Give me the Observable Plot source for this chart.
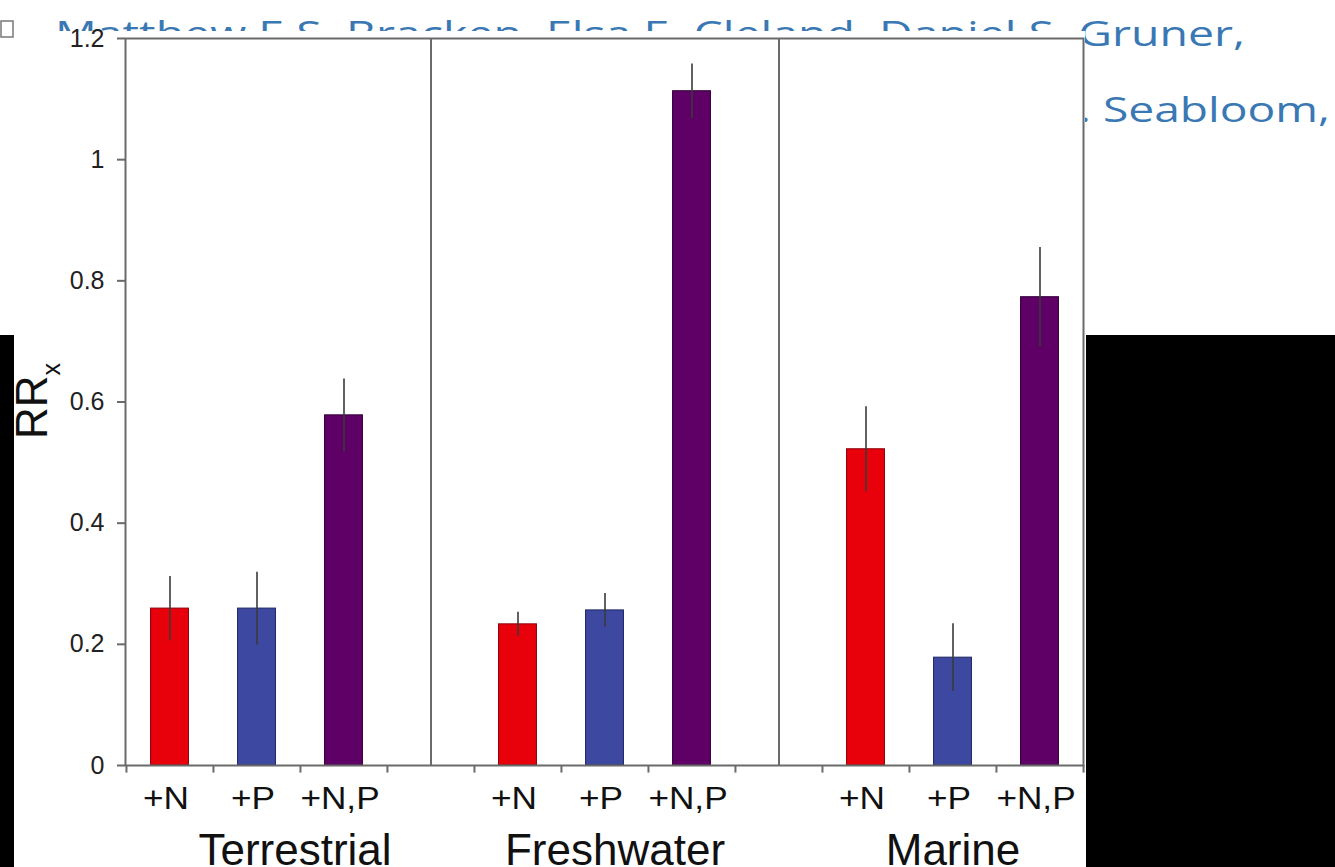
<!DOCTYPE html>
<html>
<head>
<meta charset="utf-8">
<script src="https://cdn.jsdelivr.net/npm/d3@7"></script>
<script src="https://cdn.jsdelivr.net/npm/@observablehq/plot@0.6"></script>
<style>
  html, body { margin: 0; padding: 0; background: #ffffff; width: 1335px; height: 867px; overflow: hidden; }
  #page { position: relative; width: 1335px; height: 867px; }
  #bg { position: absolute; left: 0; top: 0; }
  #sheet { position: absolute; left: 14px; top: 31px; width: 1071px; height: 836px; background: #ffffff; }
  .blk { position: absolute; background: #000000; }
  #chart { position: absolute; left: 0; top: 0; }
  #chart svg { background: transparent !important; }
</style>
</head>
<body>
<div id="page">
  <svg id="bg" width="1335" height="867" xmlns="http://www.w3.org/2000/svg"></svg>
  <div id="sheet"></div>
  <div class="blk" style="left:0;top:335px;width:14px;height:532px"></div>
  <div class="blk" style="left:1086px;top:335px;width:249px;height:532px"></div>
  <div id="chart"></div>
</div>
<script>
// ---- data ----
const groups = ["Terrestrial", "Freshwater", "Marine"];
const treatments = ["+N", "+P", "+N,P"];
const terrestrialMean = [0.259, 0.259, 0.578];
const terrestrialErr  = [0.053, 0.060, 0.060];
const freshwaterMean  = [0.233, 0.256, 1.113];
const freshwaterErr   = [0.020, 0.028, 0.045];
const marineMean      = [0.522, 0.178, 0.773];
const marineErr       = [0.070, 0.056, 0.082];
const yTicks = [0, 0.2, 0.4, 0.6, 0.8, 1, 1.2];
const backgroundLines = ["Matthew E.S. Bracken, Elsa E. Cleland, Daniel S. Gruner,", "Eric W. Seabloom,"];

// ---- build table ----
const means = [terrestrialMean, freshwaterMean, marineMean];
const errs = [terrestrialErr, freshwaterErr, marineErr];
const rows = [];
const slots = [];
const gaps = [];
groups.forEach((g, gi) => {
  treatments.forEach((t, ti) => {
    const key = g + " " + t;
    slots.push(key);
    rows.push({group: g, treatment: t, key, mean: means[gi][ti], err: errs[gi][ti]});
  });
  if (gi < groups.length - 1) { const k = g + " gap"; slots.push(k); gaps.push(k); }
});

const colors = {"+N": "#e8000b", "+P": "#3d48a0", "+N,P": "#5e0066"};
const outlines = {"+N": "#8a0008", "+P": "#1f2660", "+N,P": "#33003a"};

const W = 1335, H = 867;
const mL = 125, mR = 252, mT = 38, mB = 102;
const bw = (W - mL - mR) / slots.length;
const barW = 38;
const inset = (bw - barW) / 2;
const FONT = "'Liberation Sans', Arial, Helvetica, sans-serif";
const frameColor = "#6a6a6a";

const groupNudge = {Terrestrial: 38, Freshwater: 10, Marine: 0};

const plot = Plot.plot({
  width: W,
  height: H,
  marginLeft: mL, marginRight: mR, marginTop: mT, marginBottom: mB,
  style: {fontFamily: FONT, color: "#1a1a1a", background: "transparent", overflow: "visible"},
  x: {type: "band", domain: slots, paddingInner: 0, paddingOuter: 0, axis: null},
  y: {domain: [0, 1.2], axis: null},
  marks: [
    Plot.ruleX(gaps, {x: d => d, y1: 0, y2: 1.2, stroke: frameColor, strokeWidth: 2}),
    Plot.barY(rows, {
      x: "key", y: "mean",
      fill: d => colors[d.treatment],
      stroke: d => outlines[d.treatment], strokeWidth: 1,
      insetLeft: inset, insetRight: inset
    }),
    Plot.ruleX(rows, {x: "key", y1: d => d.mean - d.err, y2: d => d.mean + d.err, stroke: "#3a3a3a", strokeWidth: 1.6}),
    Plot.frame({stroke: frameColor, strokeWidth: 2}),
    Plot.axisY({
      ticks: yTicks, tickSize: 8, tickPadding: 13,
      tickFormat: d => String(+d.toFixed(1)),
      fontSize: 25, stroke: frameColor, strokeWidth: 2, label: null, fill: "#222"
    }),
    Plot.ruleX(slots, {x: d => d, y1: 0, y2: -0.0125, dx: -bw / 2, stroke: frameColor, strokeWidth: 2}),
    Plot.ruleX(slots.slice(-1), {x: d => d, y1: 0, y2: -0.0125, dx: bw / 2, stroke: frameColor, strokeWidth: 2}),
    Plot.text(rows, {x: "key", y: 0, text: "treatment", dy: 43, dx: -4, lineAnchor: "bottom", fontSize: 32, fill: "#111", className: "tlabel"}),
    ...groups.map(g => Plot.text([g], {
      x: () => g + " +P", y: () => 0, text: d => d, dy: 99, dx: groupNudge[g], lineAnchor: "bottom", fontSize: 44, fill: "#111"
    }))
  ]
});

document.getElementById("chart").appendChild(plot);

// widen treatment labels slightly to match the reference's wider lettering
d3.select(plot).selectAll(".tlabel text").each(function() {
  const len = this.getComputedTextLength();
  this.setAttribute("textLength", (len * 1.1).toFixed(1));
  this.setAttribute("lengthAdjust", "spacingAndGlyphs");
});

// y-axis title with subscript
const svg = d3.select(plot);
const yl = svg.append("text")
  .attr("transform", "translate(47,401) rotate(-90)")
  .attr("text-anchor", "middle")
  .attr("font-family", FONT)
  .attr("font-size", 44)
  .attr("fill", "#111");
yl.append("tspan").text("RR");
yl.append("tspan").attr("dy", 13).attr("font-size", 25).text("x");

// background page text (partly hidden behind the figure)
const bg = d3.select("#bg");
bg.append("rect").attr("x", 1).attr("y", 21).attr("width", 12).attr("height", 16)
  .attr("fill", "none").attr("stroke", "#777").attr("stroke-width", 1.5);
bg.append("text").attr("x", 55).attr("y", 46)
  .attr("textLength", 1190).attr("lengthAdjust", "spacingAndGlyphs")
  .attr("font-family", "'Open Sans', sans-serif").attr("font-size", 35).attr("fill", "#3a78b4")
  .text(backgroundLines[0]);
bg.append("text").attr("transform", "translate(1330,122) scale(1.32,1)").attr("text-anchor", "end")
  .attr("font-family", "'Open Sans', sans-serif").attr("font-size", 35).attr("fill", "#3a78b4")
  .text(backgroundLines[1]);
</script>
</body>
</html>
